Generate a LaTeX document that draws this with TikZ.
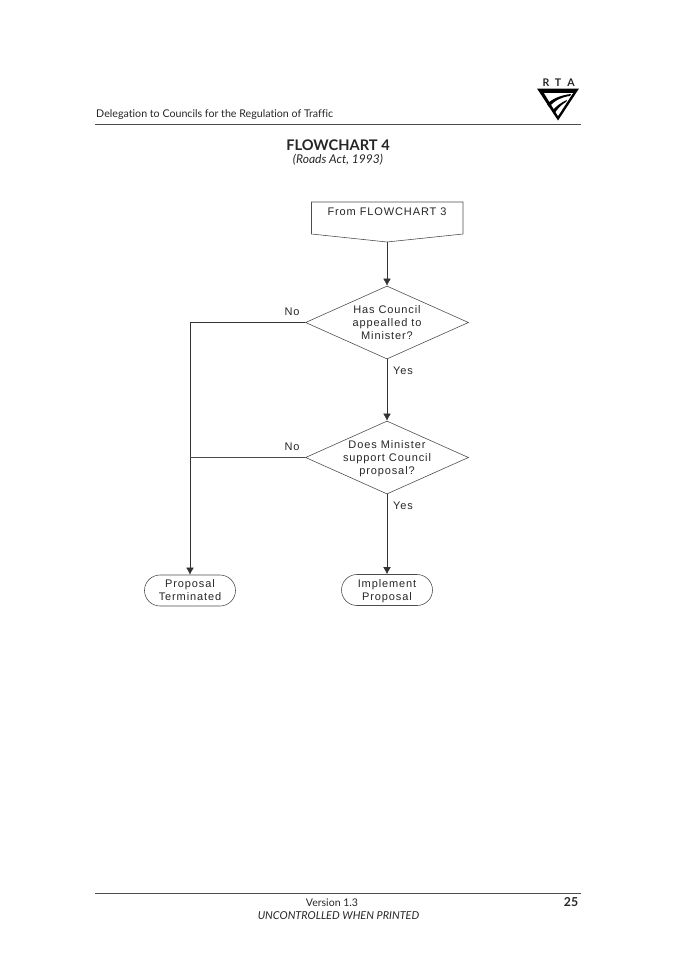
\documentclass[tikz,border=0pt]{standalone}
\usepackage{fontspec}
\usetikzlibrary{arrows.meta,shapes.geometric,shapes.misc}
\setmainfont[Ligatures=NoCommon]{Lato}
\newfontfamily\chartfont[LetterSpace=8]{Liberation Sans}
\tikzset{
	flowline/.style={draw=black!80,line width=0.5pt,arrows={-{Latex[length=6pt,width=6.5pt]}}},
	plainline/.style={draw=black!70,line width=0.5pt},
	chartlabel/.style={font=\chartfont\fontsize{9.4}{11}\selectfont,text=black!85,align=center,inner sep=0},
	ask/.style={chartlabel,diamond,draw=black!70,line width=0.5pt,inner sep=-8pt,minimum width=163*0.03cm,minimum height=73*0.03cm,aspect=2.2},
	stopbox/.style={chartlabel,rounded rectangle,draw=black!70,line width=0.5pt,minimum width=91*0.03cm,minimum height=31*0.03cm},
	pagetext/.style={inner sep=0,text=black!85}
}
\begin{document}
\begin{tikzpicture}[x=0.03cm,y=-0.03cm]
	\useasboundingbox (0,0) rectangle (675,955);

	\node [pagetext,anchor=west,font=\fontsize{9.1}{10}\selectfont] (header) at (96,115) {Delegation to Councils for the Regulation of Traffic};
	\coordinate (headl) at (95,124);
	\coordinate (headr) at (581,124);
	\draw[plainline] (headl) -- (headr);

	\node [pagetext,font=\fontsize{9}{10}\selectfont\bfseries] (rletter) at (546,83) {R};
	\node [pagetext,font=\fontsize{9}{10}\selectfont\bfseries] (tletter) at (558,83) {T};
	\node [pagetext,font=\fontsize{9}{10}\selectfont\bfseries] (aletter) at (571,83) {A};
	\fill[black] (537,88.5) -- (579,88.5) -- (558,120.5) -- cycle;
	\fill[white] (544,93) -- (573,93) -- (558,116) -- cycle;
	\fill[black] (547,104) .. controls (553,98) and (562,95) .. (571,94) -- (570,96) .. controls (562,97) and (555,100) .. (549,107) -- cycle;
	\fill[black] (552,111) .. controls (556,106) and (562,102) .. (567,100) -- (566,102) .. controls (562,104) and (558,108) .. (554,114) -- cycle;

	\node [pagetext,font=\fontsize{12.5}{14}\selectfont\bfseries] (title) at (338,145) {FLOWCHART 4};
	\node [pagetext,font=\fontsize{10.3}{12}\selectfont\itshape] (subtitle) at (338,160) {(Roads Act, 1993)};

	\node [chartlabel] (from) at (387,211.5) {From FLOWCHART 3};
	\coordinate (fromtip) at (387,242);
	\draw[plainline] (311.5,202) -- (463,202) -- (463,234) -- (fromtip) -- (311.5,234) -- cycle;

	\node [ask] (appeal) at (387,322.5) {Has Council\\appealled to\\Minister?};
	\node [ask] (support) at (387,457.5) {Does Minister\\support Council\\\smash{proposal?}};
	\node [stopbox] (end) at (190,590.5) {Proposal\\Terminated};
	\node [stopbox] (implement) at (387,590) {Implement\\\smash{Proposal}};

	\draw[flowline] (fromtip) -- (appeal.north);
	\draw[flowline] (appeal.south) -- (support.north);
	\draw[flowline] (support.south) -- (implement.north);
	\draw[flowline] (appeal.west) -| (end.north);
	\draw[plainline] (support.west) -- (support.west -| end.north);

	\node [chartlabel] (noa) at (292,312) {No};
	\node [chartlabel] (yesa) at (403,370.5) {Yes};
	\node [chartlabel] (nob) at (292,446.5) {No};
	\node [chartlabel] (yesb) at (403,505.5) {Yes};

	\coordinate (footl) at (95,893);
	\coordinate (footr) at (581,893);
	\draw[plainline] (footl) -- (footr);
	\node [pagetext,font=\fontsize{9}{10}\selectfont] (version) at (332,903) {Version 1.3};
	\node [pagetext,font=\fontsize{9.3}{10}\selectfont\itshape] (printed) at (338.5,915.5) {UNCONTROLLED WHEN PRINTED};
	\node [pagetext,font=\fontsize{10.5}{12}\selectfont\bfseries] (pagenum) at (571,902) {25};
\end{tikzpicture}
\end{document}
